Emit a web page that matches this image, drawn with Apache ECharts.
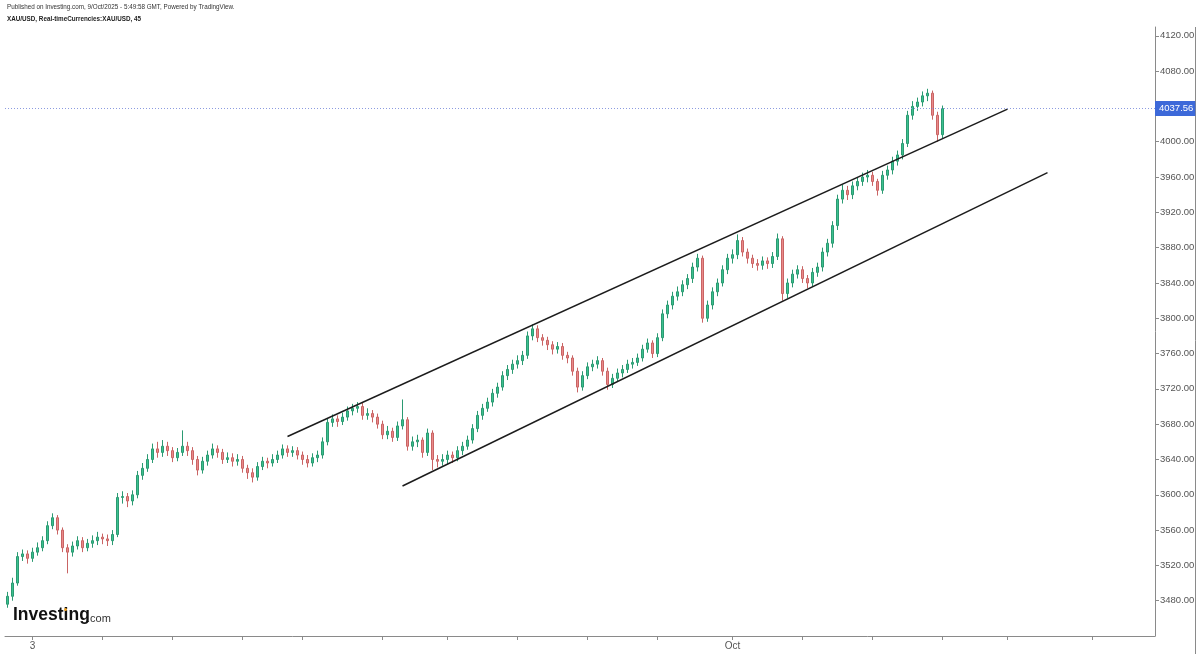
<!DOCTYPE html>
<html>
<head>
<meta charset="utf-8">
<script src="https://cdn.jsdelivr.net/npm/echarts@6/dist/echarts.min.js"></script>
<style>
html,body{margin:0;padding:0;background:#fff;}
#chart{width:1200px;height:654px;}
</style>
</head>
<body>
<div id="chart"></div>
<script>
// ---- Data (45-min XAU/USD, aggregated) ----
const firstOpen = 3476;
const closes = [
3485,3500,3530,3533,3528,3535,3540,3548,3565,3574,
3560,3540,3535,3542,3548,3540,3545,3548,3552,3550,
3548,3555,3597,3598,3593,3600,3622,3630,3640,3652,
3648,3655,3650,3642,3648,3655,3650,3640,3628,3638,
3645,3652,3648,3640,3642,3638,3640,3630,3625,3620,
3632,3638,3636,3640,3645,3652,3648,3650,3645,3640,
3636,3642,3645,3660,3682,3686,3683,3688,3695,3698,
3700,3690,3692,3688,3680,3668,3672,3665,3678,3685,
3655,3660,3662,3648,3670,3640,3638,3640,3645,3642,
3650,3655,3662,3675,3690,3698,3705,3715,3722,3735,
3742,3748,3752,3758,3780,3788,3778,3775,3770,3765,
3768,3758,3755,3740,3722,3735,3745,3748,3752,3740,
3725,3732,3738,3742,3748,3750,3755,3765,3772,3760,
3778,3805,3815,3825,3830,3838,3845,3858,3868,3800,
3815,3830,3840,3855,3868,3872,3888,3875,3868,3862,
3860,3865,3862,3870,3890,3828,3840,3850,3855,3845,
3840,3852,3858,3875,3885,3905,3935,3945,3940,3950,
3955,3960,3962,3955,3945,3962,3968,3978,3985,3998,
4030,4040,4045,4052,4055,4030,4008,4037.56
];
const highs = [
3490,3506,3535,3538,3537,3540,3546,3553,3570,3579,
3577,3563,3544,3547,3553,3552,3550,3554,3558,3556,
3555,3560,3602,3604,3602,3605,3627,3636,3646,3658,
3660,3662,3660,3654,3653,3673,3660,3654,3644,3643,
3650,3658,3656,3652,3648,3647,3646,3644,3634,3630,
3637,3643,3642,3646,3650,3657,3656,3655,3654,3649,
3645,3647,3650,3665,3687,3691,3690,3693,3700,3703,
3705,3704,3698,3696,3692,3684,3678,3676,3683,3708,
3688,3666,3668,3665,3675,3673,3645,3646,3650,3649,
3655,3660,3667,3680,3695,3703,3710,3720,3727,3740,
3747,3753,3758,3763,3785,3793,3792,3782,3779,3774,
3773,3772,3762,3758,3744,3740,3750,3753,3757,3755,
3744,3737,3743,3747,3753,3755,3760,3770,3777,3775,
3783,3810,3820,3830,3836,3843,3850,3863,3873,3871,
3820,3835,3845,3860,3873,3878,3895,3892,3879,3872,
3867,3870,3869,3875,3896,3893,3845,3855,3860,3859,
3849,3857,3863,3880,3890,3910,3940,3951,3950,3955,
3960,3965,3968,3966,3958,3967,3973,3983,3990,4003,
4035,4046,4050,4057,4060,4058,4034,4041
];
const lows = [
3472,3480,3497,3525,3522,3524,3531,3536,3544,3561,
3555,3535,3511,3530,3538,3535,3536,3540,3543,3544,
3542,3543,3552,3590,3586,3588,3596,3617,3626,3636,
3642,3643,3644,3637,3638,3644,3644,3634,3622,3624,
3633,3641,3642,3635,3636,3632,3633,3625,3618,3614,
3616,3628,3630,3632,3636,3641,3643,3643,3640,3634,
3631,3632,3637,3641,3656,3677,3677,3679,3684,3690,
3693,3685,3685,3682,3675,3663,3663,3660,3661,3674,
3650,3650,3654,3642,3644,3628,3631,3633,3635,3636,
3638,3645,3651,3658,3671,3685,3694,3700,3710,3718,
3730,3737,3743,3747,3754,3775,3773,3769,3764,3759,
3760,3753,3749,3735,3716,3718,3731,3740,3743,3735,
3719,3721,3728,3733,3738,3743,3746,3751,3761,3755,
3756,3774,3800,3810,3820,3825,3833,3840,3853,3795,
3796,3810,3825,3836,3850,3862,3867,3870,3862,3857,
3854,3855,3856,3857,3866,3820,3823,3835,3845,3840,
3834,3836,3847,3853,3870,3880,3900,3930,3934,3935,
3945,3950,3954,3950,3939,3941,3957,3963,3973,3980,
3994,4025,4035,4040,4046,4025,4000,4004
];
const lastPrice = 4037.56;
// trend lines: [slot index, price]
const upperLine = [[56, 3666], [200, 4037]];
const lowerLine = [[79, 3610], [208, 3965]];
// x-axis ticks (slot index) and their labels
const tickSlots  = [5, 19, 33, 47, 59, 75, 88, 102, 116, 130, 145, 159, 173, 187, 200, 217];
const tickLabels = ['3', '', '', '', '', '', '', '', '', '', 'Oct', '', '', '', '', ''];
const totalSlots = 230;
// y-axis
const yMin = 3440, yMax = 4130, yStep = 40;

// ---- Build ----
const cats = [];
for (let i = 0; i < totalSlots; i++) cats.push('s' + i);
const labelMap = {};
tickSlots.forEach((s, k) => { labelMap['s' + s] = tickLabels[k]; });
const tickSet = new Set(tickSlots);

const ohlc = closes.map((c, i) => {
  const o = i === 0 ? firstOpen : closes[i - 1];
  return [o, c, lows[i], highs[i]];
});

const chart = echarts.init(document.getElementById('chart'), null, {renderer: 'canvas'});
const FONT = '"Liberation Sans", Arial, sans-serif';

chart.setOption({
  animation: false,
  backgroundColor: '#ffffff',
  grid: {left: 5, right: 45, top: 27, bottom: 18, containLabel: false},
  xAxis: {
    type: 'category',
    data: cats,
    boundaryGap: true,
    axisLine: {show: true, lineStyle: {color: '#8a8a8a', width: 1}},
    axisTick: {show: true, length: 4, alignWithLabel: true,
      interval: (idx) => tickSet.has(idx), lineStyle: {color: '#8a8a8a'}},
    axisLabel: {show: true, interval: (idx, name) => !!labelMap[name],
      formatter: (name) => labelMap[name] || '',
      color: '#555', fontSize: 10, fontFamily: FONT, margin: 5},
    splitLine: {show: false}
  },
  yAxis: {
    type: 'value',
    position: 'right',
    min: yMin, max: yMax, interval: yStep,
    axisLine: {show: true, lineStyle: {color: '#8a8a8a', width: 1}},
    axisTick: {show: true, length: 4, lineStyle: {color: '#8a8a8a'}},
    axisLabel: {color: '#555', fontSize: 9.5, fontFamily: FONT, margin: 5,
      showMinLabel: false, showMaxLabel: false,
      formatter: (v) => v.toFixed(2)},
    splitLine: {show: false}
  },
  series: [
    {
      type: 'candlestick',
      data: ohlc,
      barMaxWidth: 3,
      itemStyle: {
        color: '#3cc08f', borderColor: '#2b9a72',
        color0: '#ea8a8a', borderColor0: '#c96464',
        borderWidth: 1
      },
      markLine: {
        silent: true,
        symbol: ['none', 'none'],
        data: [{yAxis: lastPrice}],
        lineStyle: {color: '#8c9be0', type: [1, 2], width: 1},
        label: {
          show: true, position: 'end', distance: 0,
          formatter: () => lastPrice.toFixed(2),
          color: '#fff', backgroundColor: '#3d69d9',
          fontSize: 9.5, fontFamily: FONT, padding: [3, 2, 2, 4]
        }
      }
    },
    {
      type: 'line', data: upperLine, symbol: 'none', silent: true,
      lineStyle: {color: '#1c1c1c', width: 1.5}
    },
    {
      type: 'line', data: lowerLine, symbol: 'none', silent: true,
      lineStyle: {color: '#1c1c1c', width: 1.5}
    }
  ],
  graphic: [
    {type: 'text', left: 7, top: 4, style: {text: 'Published on Investing.com, 9/Oct/2025 - 5:49:58 GMT, Powered by TradingView.',
      font: '6.3px ' + FONT, fill: '#333'}},
    {type: 'text', left: 7, top: 16, style: {text: 'XAU/USD, Real-timeCurrencies:XAU/USD, 45',
      font: 'bold 6.3px ' + FONT, fill: '#222'}},
    {type: 'line', shape: {x1: 1195.5, y1: 27, x2: 1195.5, y2: 654}, style: {stroke: '#8a8a8a', lineWidth: 1}},
    {type: 'text', left: 13, top: 606, style: {text: 'Investing', font: 'bold 17.5px ' + FONT, fill: '#111'}},
    {type: 'text', left: 87, top: 613, style: {text: '.com', font: '11px ' + FONT, fill: '#333'}},
    {type: 'circle', shape: {cx: 65.5, cy: 609.5, r: 1.5}, style: {fill: '#f5a623'}}
  ]
});
</script>
</body>
</html>
